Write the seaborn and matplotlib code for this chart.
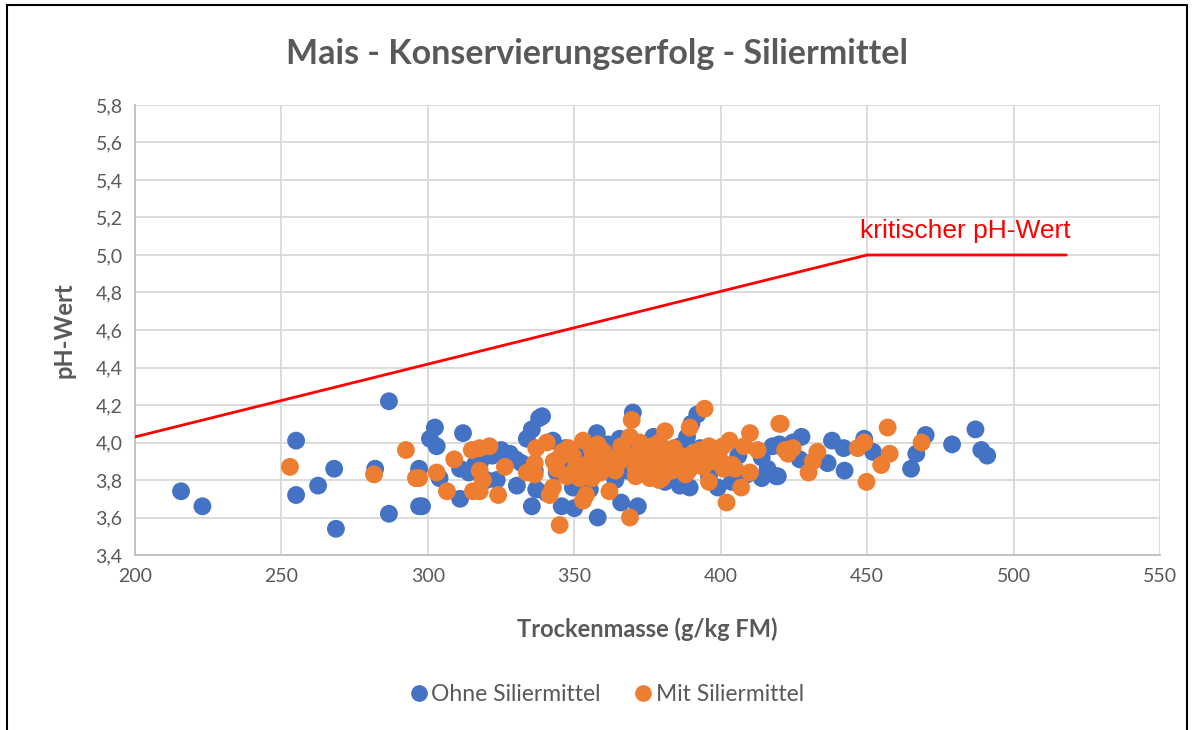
import numpy as np
import pandas as pd
import matplotlib
matplotlib.use("Agg")
import matplotlib.pyplot as plt
import seaborn as sns
from matplotlib.lines import Line2D
from matplotlib.ticker import FuncFormatter, MultipleLocator

# --- data ---
ohne_tm = [215.7, 223, 255, 255, 262.5, 268, 268.6, 282, 286.7, 286.7,
           297, 297, 300.7, 302.4, 303, 304, 298, 311, 312, 311,
           314, 320, 323.5, 325, 328, 330, 330.4, 333.8, 335.5, 335.5,
           336.5, 337, 338, 339, 340.6, 342.7, 345.7, 350, 349.5, 355.3,
           357.7, 358, 358.7, 361.5, 365.5, 366, 370, 371.7, 377, 386,
           386, 388.5, 389.4, 392, 393, 396, 399, 403.8, 414, 414,
           416, 417.7, 419, 419.5, 420, 424.6, 427, 427.6, 436.5, 438,
           442, 442.3, 449, 452, 465, 466.8, 470, 479, 487, 489,
           491, 362, 368, 374, 380, 383, 346, 352, 318, 327,
           316, 322, 332, 344, 354, 364, 376, 390, 398, 406,
           409, 381, 367, 357, 347]
ohne_ph = [3.74, 3.66, 4.01, 3.72, 3.77, 3.86, 3.54, 3.86, 4.22, 3.62,
           3.86, 3.66, 4.02, 4.08, 3.98, 3.81, 3.66, 3.70, 4.05, 3.86,
           3.84, 3.80, 3.80, 3.96, 3.94, 3.91, 3.77, 4.02, 4.07, 3.66,
           3.85, 3.75, 4.13, 4.14, 3.73, 4.01, 3.66, 3.65, 3.76, 3.75,
           4.05, 3.60, 3.89, 3.99, 4.02, 3.68, 4.16, 3.66, 4.03, 3.98,
           3.77, 4.03, 3.76, 4.15, 3.97, 3.82, 3.76, 3.79, 3.92, 3.81,
           3.86, 3.98, 3.82, 3.82, 3.99, 4.00, 3.91, 4.03, 3.89, 4.01,
           3.97, 3.85, 4.02, 3.95, 3.86, 3.94, 4.04, 3.99, 4.07, 3.96,
           3.93, 3.95, 3.85, 3.90, 3.86, 3.95, 3.88, 3.94, 3.90, 3.92,
           3.88, 3.93, 3.89, 3.84, 3.98, 3.80, 3.84, 4.10, 3.88, 3.93,
           3.83, 3.79, 3.97, 3.93, 3.97]

mit_tm = [252.9, 281.6, 292.5, 295.9, 297, 303, 306.5, 309, 315, 315.4,
          317.7, 317.7, 317.7, 318.8, 321, 324, 326.3, 333.8, 336.5, 336.5,
          337, 340.6, 341.6, 342.7, 345, 345, 347.4, 349.5, 351.9, 353,
          353, 354, 355, 356, 358, 361, 362, 365.5, 366, 369, 369,
          369.6, 370.6, 372.4, 372.4, 375.8, 376.5, 379, 379, 380, 381,
          382.6, 386, 388, 389.4, 390.4, 394, 394.5, 396, 396, 399.7,
          400.7, 402, 403, 404, 407, 410, 410, 412.6, 420, 420.5,
          422, 423, 424.6, 430, 431.5, 433, 446.8, 449, 449.8, 454.8,
          457, 457.7, 468.6, 360, 364, 368, 374, 378, 384, 392, 398,
          344, 348, 357, 371, 386, 395, 401, 377, 383, 359,
          343, 346, 350, 352, 356, 359, 363, 366, 367, 371,
          373, 375, 378, 381, 384, 387, 389, 391, 393, 397,
          399, 402, 405, 408, 374, 380, 366, 358, 352, 390]
mit_ph = [3.87, 3.83, 3.96, 3.81, 3.81, 3.84, 3.74, 3.91, 3.96, 3.74,
          3.97, 3.85, 3.74, 3.80, 3.98, 3.72, 3.87, 3.84, 3.83, 3.89,
          3.97, 4.00, 3.72, 3.76, 3.92, 3.56, 3.82, 3.93, 3.81, 4.01,
          3.69, 3.72, 3.89, 3.81, 3.99, 3.87, 3.74, 3.90, 3.98, 4.03,
          3.60, 4.12, 3.92, 4.00, 3.84, 3.81, 3.98, 4.00, 3.80, 3.81,
          4.06, 3.91, 3.87, 3.83, 4.08, 3.94, 3.87, 4.18, 3.98, 3.79,
          3.91, 3.98, 3.68, 4.01, 3.88, 3.76, 4.05, 3.84, 3.96, 4.10,
          4.10, 3.96, 3.94, 3.97, 3.84, 3.90, 3.95, 3.97, 4.00, 3.79,
          3.88, 4.08, 3.94, 4.00, 3.95, 3.85, 3.93, 3.90, 3.95, 3.92,
          3.88, 3.95, 3.86, 3.97, 3.91, 3.82, 3.93, 3.90, 3.86, 3.94,
          3.85, 3.92, 3.90, 3.95, 3.85, 3.87, 3.96, 3.84, 3.91, 3.93,
          3.95, 3.86, 3.94, 3.90, 3.87, 3.93, 3.97, 3.89, 3.85, 3.92,
          3.96, 3.90, 3.93, 3.88, 3.86, 3.98, 3.89, 3.95, 3.92, 3.84,
          3.83, 3.90]

# kritischer pH-Wert Linie
crit_tm = [200, 450, 518]
crit_ph = [4.03, 5.0, 5.0]

df = pd.DataFrame({
    "tm": ohne_tm + mit_tm,
    "ph": ohne_ph + mit_ph,
    "gruppe": ["Ohne Siliermittel"] * len(ohne_tm) + ["Mit Siliermittel"] * len(mit_tm),
})

sns.set_style("whitegrid")
plt.rcParams['font.family'] = ['Lato', 'DejaVu Sans']

grey = "#595959"
fig = plt.figure(figsize=(11.93, 7.3), dpi=100)
ax = fig.add_axes([0.1132, 0.2397, 0.8591, 0.6165])

sns.scatterplot(data=df, x="tm", y="ph", hue="gruppe",
                palette={"Ohne Siliermittel": "#4472C4", "Mit Siliermittel": "#ED7D31"},
                s=165, linewidth=0, alpha=1, legend=False, ax=ax, zorder=3)

ax.plot(crit_tm, crit_ph, color="#FF0000", lw=2, zorder=4)
ax.text(447.5, 5.065, "kritischer pH-Wert", color="#FF0000", fontsize=19,
        family="Liberation Sans", ha="left", va="bottom")

ax.set_xlim(200, 550)
ax.set_ylim(3.4, 5.8)
ax.xaxis.set_major_locator(MultipleLocator(50))
ax.yaxis.set_major_locator(MultipleLocator(0.2))
ax.yaxis.set_major_formatter(FuncFormatter(lambda v, p: f"{v:.1f}".replace(".", ",")))
ax.grid(True, color="#d9d9d9", lw=1.3)
ax.set_axisbelow(True)
for side in ["top", "right"]:
    ax.spines[side].set_visible(False)
for side in ["left", "bottom"]:
    ax.spines[side].set_color("#bfbfbf")
    ax.spines[side].set_linewidth(1.3)
ax.tick_params(length=0, labelsize=14, labelcolor=grey, pad=9)

ax.set_xlabel("Trockenmasse (g/kg FM)", fontsize=17, fontweight="bold", color=grey, labelpad=24)
ax.set_ylabel("pH-Wert", fontsize=17, fontweight="bold", color=grey, labelpad=14)
fig.suptitle("Mais - Konservierungserfolg - Siliermittel", fontsize=24.5,
             fontweight="bold", color=grey, y=0.948)

handles = [Line2D([], [], marker="o", ls="", color="#4472C4", markersize=11),
           Line2D([], [], marker="o", ls="", color="#ED7D31", markersize=11)]
fig.legend(handles, ["Ohne Siliermittel", "Mit Siliermittel"], loc="center",
           bbox_to_anchor=(0.509, 0.049), ncol=2, frameon=False, fontsize=16.5,
           handlelength=0.7, handletextpad=0.2, columnspacing=1.5, labelcolor=grey)

# outer chart frame
for xs, ys in [([0.006, 0.006], [0, 0.993]), ([0.006, 0.995], [0.993, 0.993]),
               ([0.995, 0.995], [0, 0.993])]:
    fig.add_artist(Line2D(xs, ys, color="black", lw=1.5, transform=fig.transFigure))

fig.savefig("out.png", dpi=100)
